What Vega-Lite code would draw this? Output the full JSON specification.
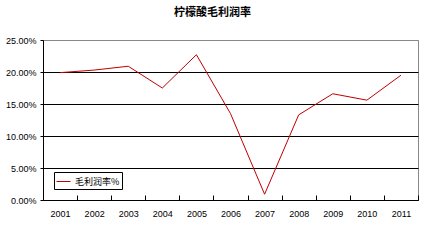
{
  "$schema": "https://vega.github.io/schema/vega-lite/v6.json",
  "autosize": "none",
  "width": 375,
  "height": 160,
  "padding": {"left": 43, "top": 40, "right": 6, "bottom": 40},
  "background": "white",
  "title": {
    "text": "柠檬酸毛利润率",
    "font": "Noto Sans CJK SC",
    "fontSize": 11,
    "fontWeight": "bold",
    "color": "black",
    "dx": -18,
    "offset": 18
  },
  "data": {
    "values": [
      {"year": "2001", "rate": 0.199, "series": "毛利润率%"},
      {"year": "2002", "rate": 0.203, "series": "毛利润率%"},
      {"year": "2003", "rate": 0.209, "series": "毛利润率%"},
      {"year": "2004", "rate": 0.175, "series": "毛利润率%"},
      {"year": "2005", "rate": 0.227, "series": "毛利润率%"},
      {"year": "2006", "rate": 0.135, "series": "毛利润率%"},
      {"year": "2007", "rate": 0.009, "series": "毛利润率%"},
      {"year": "2008", "rate": 0.133, "series": "毛利润率%"},
      {"year": "2009", "rate": 0.166, "series": "毛利润率%"},
      {"year": "2010", "rate": 0.156, "series": "毛利润率%"},
      {"year": "2011", "rate": 0.195, "series": "毛利润率%"}
    ]
  },
  "mark": {"type": "line", "strokeWidth": 1},
  "encoding": {
    "x": {
      "field": "year",
      "type": "ordinal",
      "scale": {"type": "band", "paddingInner": 0, "paddingOuter": 0},
      "axis": {
        "title": null,
        "labelAngle": 0,
        "labelFont": "Liberation Sans",
        "labelFontSize": 9,
        "labelColor": "black",
        "domainColor": "black",
        "tickColor": "black",
        "tickBand": "extent",
        "tickSize": -5,
        "labelPadding": 14,
        "grid": false
      }
    },
    "y": {
      "field": "rate",
      "type": "quantitative",
      "scale": {"domain": [0, 0.25], "nice": false},
      "axis": {
        "title": null,
        "values": [0, 0.05, 0.1, 0.15, 0.2, 0.25],
        "format": ".2%",
        "labelFont": "Liberation Sans",
        "labelFontSize": 9,
        "labelColor": "black",
        "domainColor": "black",
        "tickColor": "black",
        "tickSize": 3,
        "labelPadding": 4,
        "grid": true,
        "gridColor": {"condition": {"test": "datum.value >= 0.25", "value": "#888888"}, "value": "black"},
        "gridOpacity": 1
      }
    },
    "color": {
      "field": "series",
      "type": "nominal",
      "scale": {"range": ["#C00000"]},
      "legend": {
        "title": null,
        "orient": "bottom-left",
        "offset": 11,
        "symbolType": "stroke",
        "symbolSize": 196,
        "symbolStrokeWidth": 1,
        "labelFont": "Noto Sans CJK SC",
        "labelFontSize": 9,
        "labelColor": "black",
        "strokeColor": "black",
        "padding": 2,
        "fillColor": "white"
      }
    }
  },
  "config": {
    "view": {"stroke": "#888888", "strokeWidth": 1}
  }
}
